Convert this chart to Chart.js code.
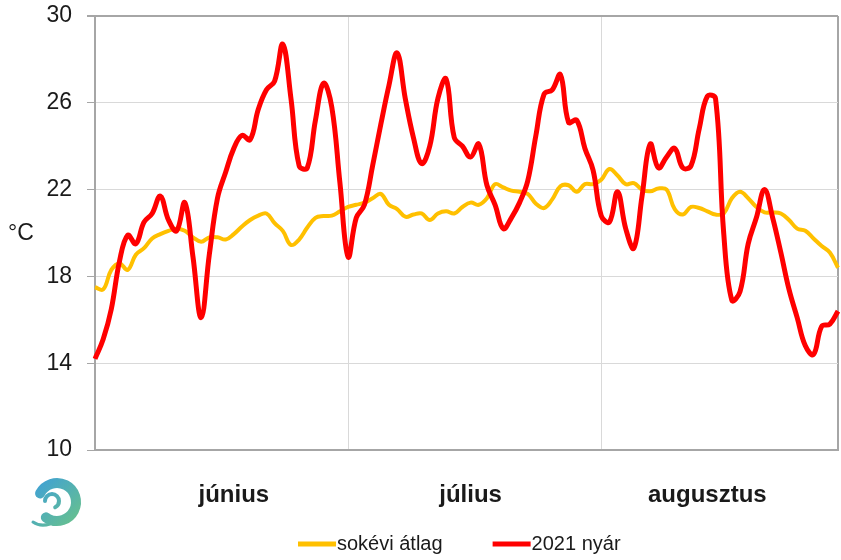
<!DOCTYPE html>
<html>
<head>
<meta charset="utf-8">
<title>Nyári napi középhőmérséklet</title>
<script src="https://cdn.jsdelivr.net/npm/chart.js"></script>
<style>
    body { margin: 0; background: #fff; }
    canvas { display: block; }
</style>
</head>
<body>
<canvas id="tempChart" width="841" height="560"></canvas>
<script>
// Napi középhőmérséklet, 2021. június 1. - augusztus 31.
const months = ['június', 'július', 'augusztus'];
const monthDays = [30, 31, 31];
const yTicks = [10, 14, 18, 22, 26, 30];

const seriesNames = ['sokévi átlag', '2021 nyár'];

const longTermAvg = [
    17.5, 17.4, 18.3, 18.6, 18.3, 19.0, 19.3, 19.75, 19.95, 20.1,
    20.2, 20.1, 19.8, 19.6, 19.8, 19.8, 19.7, 19.95, 20.3, 20.6,
    20.8, 20.9, 20.45, 20.1, 19.45, 19.7, 20.25, 20.7, 20.78, 20.8,
    21.0, 21.2, 21.3, 21.4, 21.6, 21.8, 21.3, 21.1, 20.75, 20.85,
    20.9, 20.6, 20.9, 21.0, 20.9, 21.2, 21.4, 21.3, 21.6, 22.25,
    22.1, 21.95, 21.9, 21.8, 21.35, 21.15, 21.55, 22.15, 22.2, 21.9,
    22.25, 22.25, 22.45, 22.95, 22.65, 22.25, 22.3, 22.0, 21.92, 22.05,
    22.0, 21.1, 20.85, 21.2, 21.15, 21.0, 20.85, 20.9, 21.6, 21.9,
    21.6, 21.2, 20.95, 20.95, 20.9, 20.6, 20.2, 20.1, 19.75, 19.4,
    19.1, 18.4
];

const summer2021 = [
    14.2, 15.1, 16.5, 18.7, 19.9, 19.5, 20.5, 20.9, 21.7, 20.6,
    20.1, 21.4, 18.9, 16.1, 19.0, 21.6, 22.8, 23.9, 24.5, 24.3,
    25.7, 26.6, 27.0, 28.7, 26.2, 23.1, 23.0, 25.2, 26.9, 25.8,
    22.3, 18.9, 20.7, 21.3, 23.1, 25.0, 26.8, 28.3, 26.2, 24.4,
    23.2, 24.0, 26.2, 27.1, 24.4, 24.0, 23.5, 24.1, 22.2, 21.3,
    20.2, 20.7, 21.4, 22.4, 24.5, 26.4, 26.6, 27.3, 25.1, 25.2,
    23.9, 22.9, 20.8, 20.5, 21.9, 20.2, 19.3, 21.7, 24.1, 23.0,
    23.5, 23.9, 23.0, 23.1, 24.8, 26.3, 26.2, 20.0, 16.9, 17.3,
    19.5, 20.7, 22.0, 20.7, 19.1, 17.4, 16.1, 14.8, 14.4, 15.7,
    15.8, 16.4
];

// napok címkéi (június 1. ... augusztus 31.)
const dayLabels = [];
months.forEach((m, mi) => {
    for (let d = 1; d <= monthDays[mi]; d++) dayLabels.push(m + ' ' + d + '.');
});

// hol áll a hónap felirat, és hol a függőleges rácsvonal (kategória index)
const monthLabelIndex = [17, 46, 75];
const verticalGridIndex = [31, 62];

const FONT = "'Liberation Sans', Arial, sans-serif";
const FRAME = '#a6a6a6';
const GRID = '#d9d9d9';

const extrasPlugin = {
    id: 'extras',
    afterDraw(chart) {
        const ctx = chart.ctx;
        ctx.save();

        // mértékegység
        ctx.fillStyle = '#1a1a1a';
        ctx.font = '23px ' + FONT;
        ctx.textAlign = 'left';
        ctx.textBaseline = 'middle';
        ctx.fillText('°C', 8, 234);

        // jelmagyarázat
        ctx.font = '20px ' + FONT;
        let x = 298;
        const y = 544;
        chart.data.datasets.forEach(ds => {
            ctx.fillStyle = ds.borderColor;
            ctx.fillRect(x, y - 2.5, 38, 5);
            x += 39;
            ctx.fillStyle = '#1a1a1a';
            ctx.fillText(ds.label, x, y);
            x += ctx.measureText(ds.label).width + 50;
        });

        // logó
        const g = ctx.createLinearGradient(33, 480, 80, 528);
        g.addColorStop(0, '#3d9fd9');
        g.addColorStop(1, '#6cc486');
        ctx.strokeStyle = g;
        ctx.lineCap = 'round';
        ctx.lineWidth = 10;
        ctx.beginPath();
        ctx.arc(57, 502, 19, 1.15 * Math.PI, 0.7 * Math.PI);
        ctx.stroke();
        ctx.lineWidth = 4;
        ctx.beginPath();
        ctx.arc(52, 501, 7, 1.0 * Math.PI, 0.35 * Math.PI);
        ctx.stroke();
        ctx.lineWidth = 3;
        ctx.beginPath();
        ctx.moveTo(50, 524);
        ctx.quadraticCurveTo(40, 527, 33, 522);
        ctx.stroke();

        ctx.restore();
    }
};

const ctx = document.getElementById('tempChart').getContext('2d');
new Chart(ctx, {
    type: 'line',
    data: {
        labels: dayLabels,
        datasets: [{
            label: seriesNames[0],
            data: longTermAvg,
            borderColor: '#ffc000',
            borderWidth: 4,
            pointRadius: 0,
            tension: 0.4,
            fill: false,
            order: 1
        }, {
            label: seriesNames[1],
            data: summer2021,
            borderColor: '#ff0000',
            borderWidth: 5,
            pointRadius: 0,
            tension: 0.4,
            fill: false,
            order: 0
        }]
    },
    options: {
        responsive: false,
        animation: false,
        layout: {
            padding: { left: 0, right: 3, top: 16, bottom: 50 }
        },
        plugins: {
            legend: { display: false },
            tooltip: { enabled: false }
        },
        scales: {
            x: {
                offset: false,
                afterFit: function(scale) {
                    scale.height = 60;
                    scale.paddingLeft = 0;
                    scale.paddingRight = 0;
                },
                grid: {
                    drawTicks: false,
                    color: c => c.index === dayLabels.length - 1 ? FRAME :
                        (verticalGridIndex.includes(c.index) ? GRID : 'rgba(0,0,0,0)'),
                    lineWidth: c => c.index === dayLabels.length - 1 ? 2 : 1
                },
                border: { color: FRAME, width: 2 },
                ticks: {
                    autoSkip: false,
                    maxRotation: 0,
                    minRotation: 0,
                    padding: 31,
                    color: '#1a1a1a',
                    font: { family: FONT, size: 24, weight: 'bold' },
                    callback: function(val, idx) {
                        const m = monthLabelIndex.indexOf(idx);
                        return m >= 0 ? months[m] : '';
                    }
                }
            },
            y: {
                min: yTicks[0],
                max: yTicks[yTicks.length - 1],
                afterFit: function(scale) {
                    scale.width = 95;
                    scale.paddingTop = 0;
                    scale.paddingBottom = 0;
                },
                afterBuildTicks: function(scale) {
                    scale.ticks = yTicks.map(v => ({ value: v }));
                },
                grid: {
                    tickLength: 8,
                    tickColor: FRAME,
                    color: c => c.tick && c.tick.value === yTicks[yTicks.length - 1] ? FRAME : GRID,
                    lineWidth: c => c.tick && c.tick.value === yTicks[yTicks.length - 1] ? 2 : 1
                },
                border: { color: FRAME, width: 2 },
                ticks: {
                    padding: 15,
                    color: '#1a1a1a',
                    font: { family: FONT, size: 23 }
                }
            }
        }
    },
    plugins: [extrasPlugin]
});
</script>
</body>
</html>
